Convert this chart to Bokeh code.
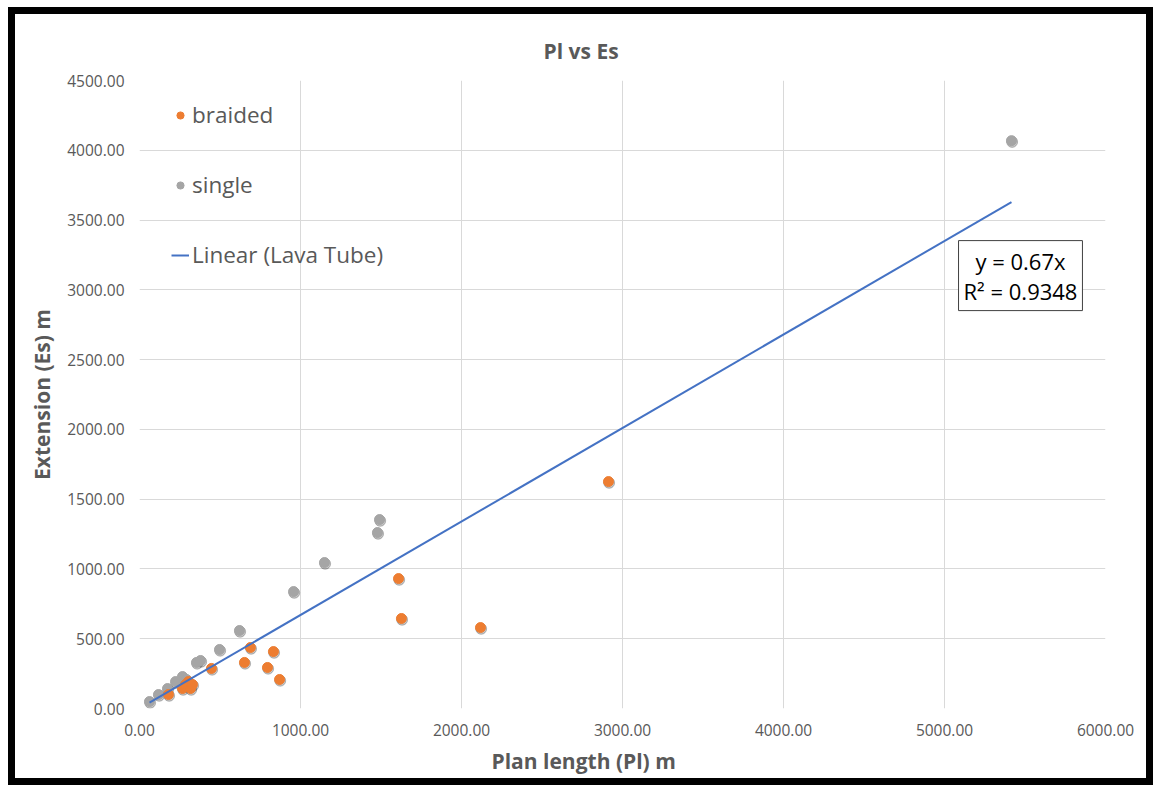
from bokeh.plotting import figure
from bokeh.models import (Range1d, SingleIntervalTicker, NumeralTickFormatter,
                          Label, Legend, LegendItem, ColumnDataSource, Title)
from bokeh.transform import dodge
from bokeh.embed import file_html
from bokeh.resources import INLINE

# ---- data ----
braided_pl = [180, 267, 286, 317, 304, 329, 447, 652, 689, 795, 832, 870, 1609, 1627, 2118, 2913]
braided_es = [100, 143, 172, 143, 193, 172, 287, 330, 437, 294, 408, 208, 931, 645, 580, 1626]

single_pl = [62, 118, 174, 224, 267, 292, 354, 379, 497, 621, 957, 1149, 1478, 1491, 5416]
single_es = [50, 100, 143, 193, 229, 208, 330, 344, 423, 559, 838, 1046, 1261, 1354, 4069]

trend_slope = 0.67
trend_text = "y = 0.67x\nR\u00b2 = 0.9348"

x_ticks_step = 1000
y_ticks_step = 500

FONT = "Open Sans"
TXT = "#595959"
ORANGE = "#ED7D31"
GRAY = "#A5A5A5"
BLUE = "#4472C4"

W, H = 1145, 778

all_pl = braided_pl + single_pl
trend_x = [min(all_pl), max(all_pl)]
trend_y = [trend_slope * v for v in trend_x]

src_b = ColumnDataSource(dict(x=braided_pl, y=braided_es))
src_s = ColumnDataSource(dict(x=single_pl, y=single_es))
src_t = ColumnDataSource(dict(x=trend_x, y=trend_y))

p = figure(width=W, height=H,
           x_range=Range1d(0, 6000), y_range=Range1d(0, 4500),
           output_backend="svg", toolbar_location=None,
           min_border_left=124, min_border_right=55,
           min_border_top=66, min_border_bottom=84,
           title="Pl vs Es")
# black chart border, as in the reference
p.styles = {"border": "7px solid black", "margin-left": "8px", "margin-top": "7px"}
p.outline_line_color = None
p.background_fill_color = "white"
p.border_fill_color = "white"

p.title.align = "left"
p.title.offset = 404
p.title.text_font = FONT
p.title.text_font_size = "21px"
p.title.text_font_style = "bold"
p.title.text_color = TXT
p.title.standoff = 32

# axes
for ax in (p.xaxis[0], p.yaxis[0]):
    ax.axis_line_color = None
    ax.major_tick_line_color = None
    ax.minor_tick_line_color = None
    ax.major_tick_out = 0
    ax.major_tick_in = 0
    ax.minor_tick_out = 0
    ax.minor_tick_in = 0
    ax.major_label_text_font = FONT
    ax.major_label_text_font_size = "15.5px"
    ax.major_label_text_color = TXT
    ax.axis_label_text_font = FONT
    ax.axis_label_text_font_size = "21px"
    ax.axis_label_text_font_style = "bold"
    ax.axis_label_text_color = TXT
    ax.formatter = NumeralTickFormatter(format="0.00")

p.xaxis[0].ticker = SingleIntervalTicker(interval=x_ticks_step)
p.yaxis[0].ticker = SingleIntervalTicker(interval=y_ticks_step)
p.yaxis[0].axis_label = "Extension (Es) m"
p.xaxis[0].major_label_standoff = 15
p.yaxis[0].major_label_standoff = 15
p.yaxis[0].axis_label_standoff = 8

# x axis title (placed under the axis, centred on the chart as in the reference)
xtitle = Title(text="Plan length (Pl) m", align="left", offset=352, standoff=12,
               text_font=FONT, text_font_size="21px", text_font_style="bold",
               text_color=TXT)
p.add_layout(xtitle, "below")

p.xgrid.grid_line_color = "#D9D9D9"
p.ygrid.grid_line_color = "#D9D9D9"
p.xgrid.ticker = SingleIntervalTicker(interval=x_ticks_step)
p.ygrid.ticker = SingleIntervalTicker(interval=y_ticks_step)

# marker shadows
p.scatter(x=dodge("x", 4, range=None), y=dodge("y", -9, range=None), source=src_s,
          size=11, color="black", alpha=0.22)
p.scatter(x=dodge("x", 4, range=None), y=dodge("y", -9, range=None), source=src_b,
          size=11, color="black", alpha=0.22)

r_s = p.scatter("x", "y", source=src_s, size=10, color=GRAY)
r_b = p.scatter("x", "y", source=src_b, size=10, color=ORANGE)
r_t = p.line("x", "y", source=src_t, line_color=BLUE, line_width=2)

legend = Legend(items=[LegendItem(label="braided", renderers=[r_b]),
                       LegendItem(label="single", renderers=[r_s]),
                       LegendItem(label="Linear (Lava Tube)", renderers=[r_t])],
                location=(32, 438))
legend.label_text_font = FONT
legend.label_text_font_size = "22.5px"
legend.label_text_color = TXT
legend.glyph_width = 18
legend.glyph_height = 30
legend.label_height = 30
legend.spacing = 39
legend.padding = 0
legend.margin = 0
legend.label_standoff = 3
legend.border_line_alpha = 0
legend.background_fill_alpha = 0
p.add_layout(legend)

eq = Label(x=5472, y=3102, text=trend_text, text_align="center", text_baseline="middle",
           text_font=FONT, text_font_size="22px", text_color="black", text_line_height=1.0,
           border_line_color="#404040", border_line_width=1,
           background_fill_color="white", padding=5)
p.add_layout(eq)

open("out.html", "w").write(file_html(p, INLINE))
